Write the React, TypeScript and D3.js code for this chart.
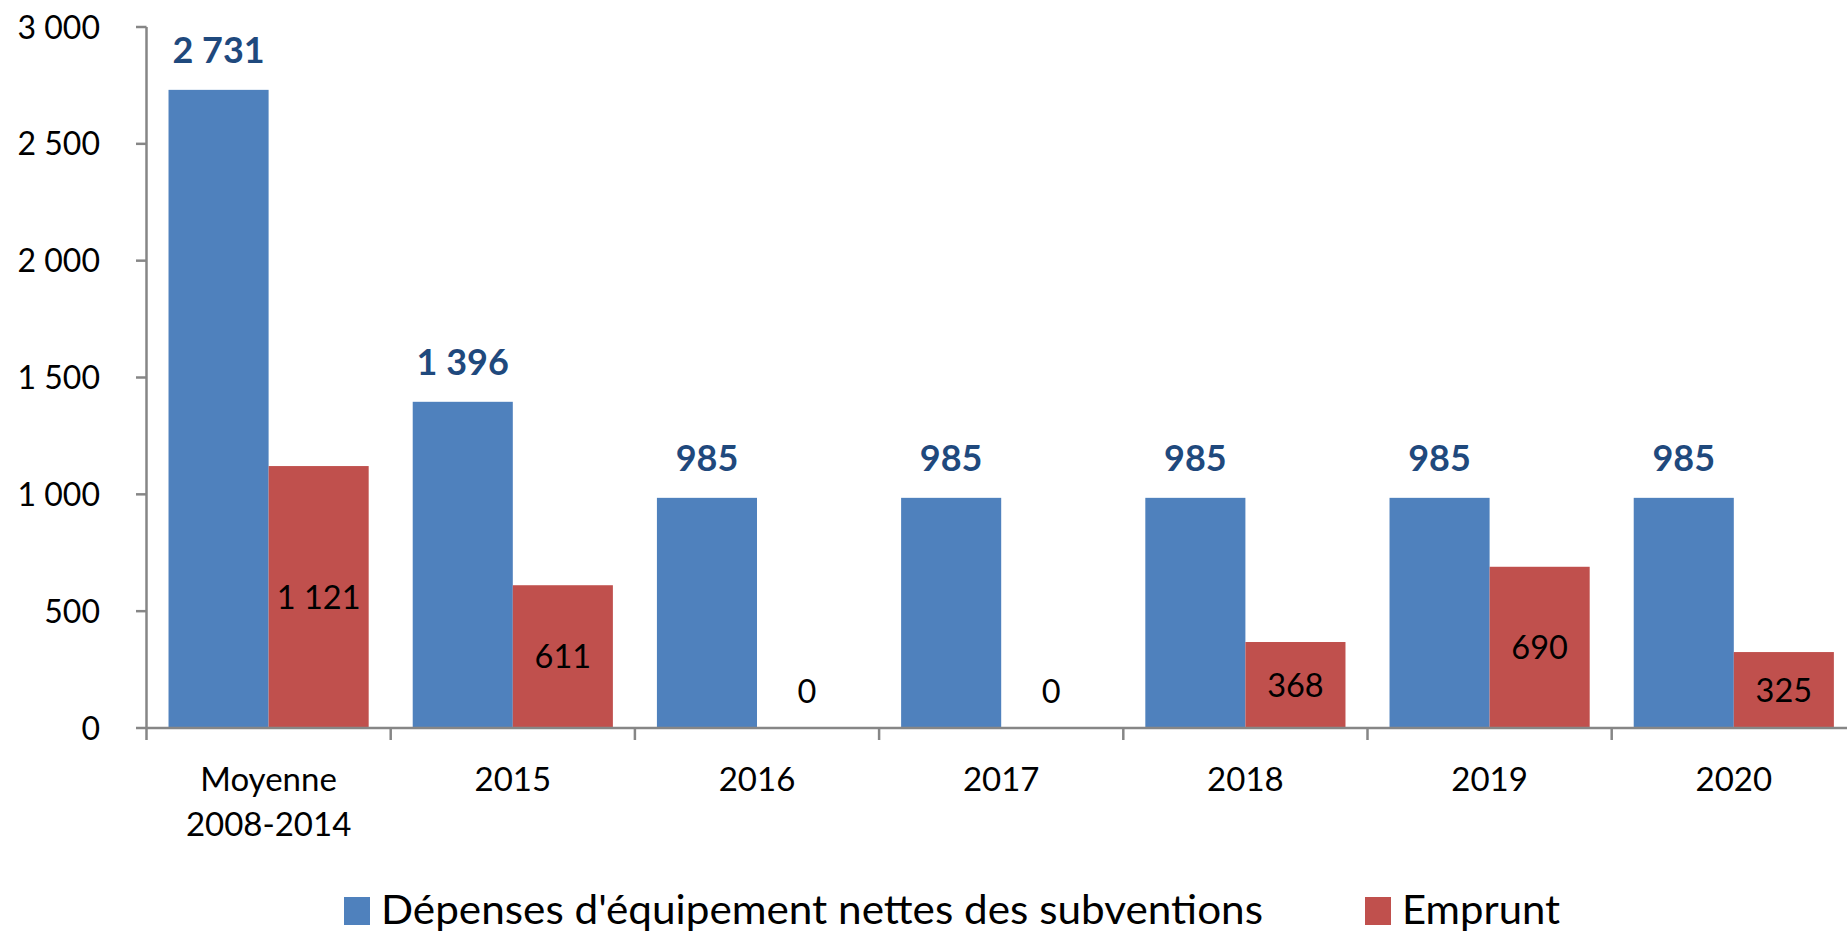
import React, { useRef, useEffect } from "react";
import * as d3 from "d3";

const categories = ["Moyenne\n2008-2014", "2015", "2016", "2017", "2018", "2019", "2020"];
const series = ["Dépenses d'équipement nettes des subventions", "Emprunt"];
const depenses = [2731, 1396, 985, 985, 985, 985, 985];
const emprunt = [1121, 611, 0, 0, 368, 690, 325];
const yTicks = [0, 500, 1000, 1500, 2000, 2500, 3000];
const colors = ["#4F81BD", "#C0504D"];

const W = 1847;
const H = 932;
const FONT = "Lato, 'Open Sans', sans-serif";

export default function App() {
  const ref = useRef<SVGSVGElement>(null);

  useEffect(() => {
    document.body.style.margin = "0";
    const svg = d3.select(ref.current);
    svg.selectAll("*").remove();

    const fr = d3.formatLocale({ decimal: ",", thousands: " ", grouping: [3], currency: ["", " €"] });
    const fmt = fr.format(",d");

    // scales
    const x0 = d3.scaleBand<string>().domain(categories).range([146.5, 146.5 + 7 * 244.2]);
    const x1 = d3.scaleBand<string>().domain(series).range([0, x0.bandwidth()]).paddingOuter(0.22);
    const y = d3.scaleLinear().domain([0, 3000]).range([728, 27]);

    const axisColor = "#868686";

    // y axis
    const gy = svg.append("g");
    gy.append("line")
      .attr("x1", 146.5).attr("x2", 146.5)
      .attr("y1", y(3000)).attr("y2", y(0))
      .attr("stroke", axisColor).attr("stroke-width", 2.5);
    gy.selectAll(".yt")
      .data(yTicks)
      .enter()
      .append("line")
      .attr("x1", 136).attr("x2", 146.5)
      .attr("y1", d => y(d)).attr("y2", d => y(d))
      .attr("stroke", axisColor).attr("stroke-width", 2.5);
    gy.selectAll(".yl")
      .data(yTicks)
      .enter()
      .append("text")
      .attr("x", 100)
      .attr("y", d => y(d))
      .attr("dy", "0.36em")
      .attr("text-anchor", "end")
      .attr("font-family", FONT)
      .attr("font-size", 32)
      .attr("fill", "#000")
      .text(d => fmt(d));

    // bars
    const groups = svg.selectAll(".grp")
      .data(categories)
      .enter()
      .append("g")
      .attr("transform", d => `translate(${x0(d)},0)`);

    const vals = [depenses, emprunt];
    groups.each(function (_, i) {
      const g = d3.select(this);
      series.forEach((s, k) => {
        const v = vals[k][i];
        g.append("rect")
          .attr("x", x1(s)!)
          .attr("width", x1.bandwidth())
          .attr("y", y(v))
          .attr("height", y(0) - y(v))
          .attr("fill", colors[k]);
      });
      // labels
      const vb = depenses[i];
      g.append("text")
        .attr("x", x1(series[0])! + x1.bandwidth() / 2)
        .attr("y", y(vb) - 27)
        .attr("text-anchor", "middle")
        .attr("font-family", FONT)
        .attr("font-weight", "bold")
        .attr("font-size", 36)
        .attr("fill", "#1F497D")
        .text(fmt(vb));
      const vr = emprunt[i];
      const cy = Math.min((y(vr) + y(0)) / 2, y(0) - 37);
      g.append("text")
        .attr("x", x1(series[1])! + x1.bandwidth() / 2)
        .attr("y", cy)
        .attr("dy", "0.36em")
        .attr("text-anchor", "middle")
        .attr("font-family", FONT)
        .attr("font-size", 32.5)
        .attr("fill", "#000")
        .text(fmt(vr));
    });

    // x axis
    const gx = svg.append("g");
    gx.append("line")
      .attr("x1", 146.5).attr("x2", x0.range()[1])
      .attr("y1", y(0)).attr("y2", y(0))
      .attr("stroke", axisColor).attr("stroke-width", 2.5);
    gx.selectAll(".xt")
      .data(d3.range(categories.length + 1))
      .enter()
      .append("line")
      .attr("x1", i => 146.5 + i * x0.step()).attr("x2", i => 146.5 + i * x0.step())
      .attr("y1", y(0)).attr("y2", y(0) + 12)
      .attr("stroke", axisColor).attr("stroke-width", 2.5);
    const xl = gx.selectAll(".xl")
      .data(categories)
      .enter()
      .append("text")
      .attr("text-anchor", "middle")
      .attr("font-family", FONT)
      .attr("font-size", 33)
      .attr("fill", "#000");
    xl.each(function (d) {
      const t = d3.select(this);
      d.split("\n").forEach((line, j) => {
        t.append("tspan")
          .attr("x", x0(d)! + x0.bandwidth() / 2)
          .attr("y", 791 + j * 45)
          .text(line);
      });
    });

    // legend
    const legendX = [344, 1365];
    const legendW = [882, 158];
    const lg = svg.append("g");
    series.forEach((s, k) => {
      lg.append("rect")
        .attr("x", legendX[k]).attr("y", 897)
        .attr("width", 26).attr("height", 28)
        .attr("fill", colors[k]);
      lg.append("text")
        .attr("x", legendX[k] + 37)
        .attr("y", 924)
        .attr("font-family", FONT)
        .attr("font-size", 40)
        .attr("textLength", legendW[k])
        .attr("lengthAdjust", "spacingAndGlyphs")
        .attr("fill", "#000")
        .text(s);
    });
  }, []);

  return <svg ref={ref} width={W} height={H} style={{ display: "block" }} />;
}
